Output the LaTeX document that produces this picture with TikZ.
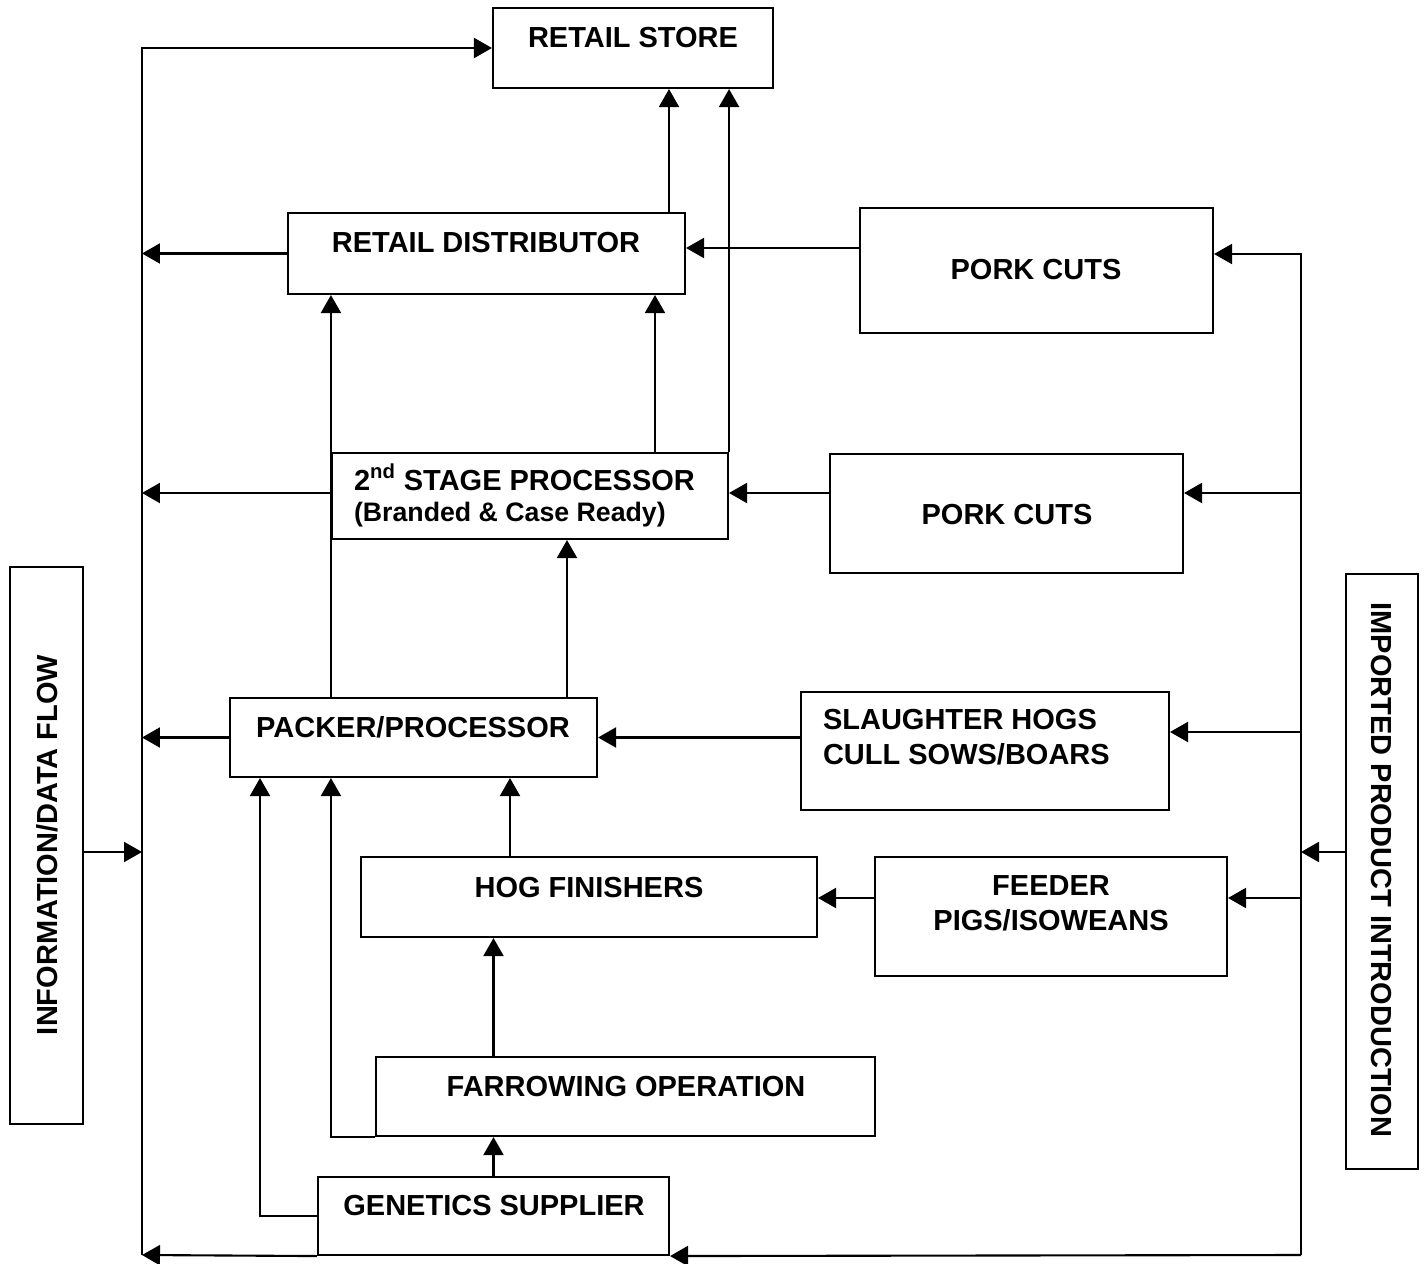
\documentclass[tikz,border=0pt]{standalone}
\usepackage{fontspec}
\setmainfont{Liberation Sans}
\usetikzlibrary{arrows.meta,fit}

\begin{document}
\begin{tikzpicture}[x=0.02cm, y=-0.02cm, line width=1.2pt,
  box/.style={draw, inner sep=0pt},
  txt/.style={anchor=base, inner sep=0pt, font=\fontsize{16.5}{20}\selectfont\bfseries},
  arr/.style={-{Triangle[length=0.36cm,width=0.4cm]}}]
  \useasboundingbox (0,0) rectangle (1424,1264);

  % boxes
  \node[box, fit={(493,8) (773,88)}] (store) {};
  \node[box, fit={(288,213) (685,294)}] (distrib) {};
  \node[box, fit={(860,208) (1213,333)}] (cutsA) {};
  \node[box, fit={(332,453) (728,539)}] (second) {};
  \node[box, fit={(830,454) (1183,573)}] (cutsB) {};
  \node[box, fit={(230,698) (597,777)}] (packer) {};
  \node[box, fit={(801,692) (1169,810)}] (slaughter) {};
  \node[box, fit={(361,857) (817,937)}] (finish) {};
  \node[box, fit={(875,857) (1227,976)}] (feeder) {};
  \node[box, fit={(376,1057) (875,1136)}] (farrow) {};
  \node[box, fit={(318,1177) (669,1255)}] (genetics) {};
  \node[box, fit={(10,567) (83,1124)}] (info) {};
  \node[box, fit={(1346,574) (1418,1169)}] (import) {};

  % labels
  \node[txt] (store-t) at (633,48) {RETAIL STORE};
  \node[txt] (distrib-t) at (486,253) {RETAIL DISTRIBUTOR};
  \node[txt] (cutsA-t) at (1036,279) {PORK CUTS};
  \node[txt, anchor=base west] (second-t) at (353,490) {2\textsuperscript{nd} STAGE PROCESSOR};
  \node[txt, anchor=base west, font=\fontsize{15.2}{18}\selectfont\bfseries] (second-s) at (353,521) {(Branded \& Case Ready)};
  \node[txt] (cutsB-t) at (1007,524) {PORK CUTS};
  \node[txt] (packer-t) at (413,737) {PACKER/PROCESSOR};
  \node[txt, anchor=base west] (slaughter-t) at (822,729) {SLAUGHTER HOGS};
  \node[txt, anchor=base west] (slaughter-s) at (822,764) {CULL SOWS/BOARS};
  \node[txt] (finish-t) at (589,897) {HOG FINISHERS};
  \node[txt] (feeder-t) at (1051,895) {FEEDER};
  \node[txt] (feeder-s) at (1051,930) {PIGS/ISOWEANS};
  \node[txt] (farrow-t) at (626,1096) {FARROWING OPERATION};
  \node[txt] (genetics-t) at (494,1215) {GENETICS SUPPLIER};
  \node[txt, anchor=center, rotate=90] (info-t) at (47,845) {INFORMATION/DATA FLOW};
  \node[txt, anchor=center, rotate=-90] (import-t) at (1381,870) {IMPORTED PRODUCT INTRODUCTION};

  % left bus
  \coordinate (lbus) at (142,1255);
  \draw[arr] (lbus) |- (store.west);
  \draw[arr] (distrib.west) -- (distrib.west -| lbus);
  \draw[arr] (second.west |- 0,493) -- (lbus |- 0,493);
  \draw[arr] (packer.west) -- (packer.west -| lbus);
  \draw[arr] (genetics.south west) -- (lbus);
  \draw[arr] (info.east |- 0,852) -- (lbus |- 0,852);

  % right bus
  \coordinate (rbus) at (1301,1255);
  \coordinate (rtop) at (1301,254);
  \draw[arr] (rbus) -- (rtop) -- (cutsA.east |- rtop);
  \draw[arr] (rbus) -- (genetics.south east);
  \draw[arr] (rbus |- 0,493) -- (cutsB.east |- 0,493);
  \draw[arr] (rbus |- 0,732) -- (slaughter.east |- 0,732);
  \draw[arr] (rbus |- 0,898) -- (feeder.east |- 0,898);
  \draw[arr] (import.west |- 0,852) -- (rbus |- 0,852);

  % supply side
  \draw[arr] (cutsA.west |- 0,248) -- (distrib.east |- 0,248);
  \draw[arr] (cutsB.west |- 0,493) -- (second.east |- 0,493);
  \draw[arr] (slaughter.west |- packer.east) -- (packer.east);
  \draw[arr] (feeder.west |- 0,898) -- (finish.east |- 0,898);

  % upward flow
  \draw[arr] (distrib.north -| 669,0) -- (store.south -| 669,0);
  \draw[arr] (second.north east) -- (store.south -| second.north east);
  \draw[arr] (second.north -| 655,0) -- (distrib.south -| 655,0);
  \draw[arr] (second.west |- packer.north) -- (second.west |- distrib.south);
  \draw[arr] (packer.north -| 567,0) -- (second.south -| 567,0);
  \draw[arr] (finish.north -| 510,0) -- (packer.south -| 510,0);
  \draw[arr] (farrow.north -| genetics.north) -- (finish.south -| genetics.north);
  \draw[arr] (genetics.north) -- (farrow.south -| genetics.north);
  \draw[arr] (genetics.west |- 0,1216) -| (packer.south -| 260,0);
  \draw[arr] (farrow.south west) -| (packer.south -| second.west);
\end{tikzpicture}
\end{document}
